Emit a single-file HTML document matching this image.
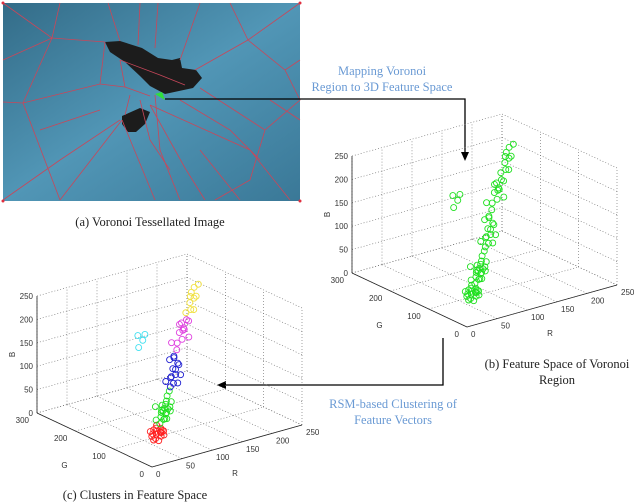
<!DOCTYPE html>
<html><head><meta charset="utf-8"><style>
body{margin:0;background:#fff}
svg{display:block}
.cap{font-family:"Liberation Serif",serif;font-size:12.5px;fill:#222}
.blue{font-family:"Liberation Serif",serif;font-size:12.5px;fill:#6a9ad4}
.tk{font-family:"Liberation Sans",sans-serif;font-size:8px;fill:#333}
</style></head><body>
<svg id="fig" width="640" height="504" viewBox="0 0 640 504">
<defs>
<linearGradient id="bg" x1="0" y1="0" x2="1" y2="1">
<stop offset="0" stop-color="#336c88"/><stop offset="0.5" stop-color="#5196b6"/><stop offset="1" stop-color="#3a7897"/>
</linearGradient>
</defs>
<g>
<rect x="3" y="3" width="297" height="198" fill="url(#bg)"/>
<g fill="#1c1c1c">
<path d="M105,42 L120,41 L142,48 L158,58 L172,60 L180,58 L182,68 L196,70 L202,78 L193,88 L165,94 L150,86 L140,76 L125,62 L110,52 Z"/>
<path d="M122,116 L140,108 L150,112 L145,124 L136,132 L128,132 L122,124 Z"/>
</g>
<g fill="none" stroke="#c8475a" stroke-width="0.8">
<path d="M3,3 L52,38 L105,42 M52,38 L60,3 M3,102 L23,103 L52,38 M23,103 L100,84 L125,87 L150,96 M23,103 L60,200 M60,200 L122,120 M122,120 L155,200 M150,105 L185,168 L205,200 M150,105 L250,150 L290,200 M195,70 L248,40 L300,3 M248,40 L285,70 L300,100 L265,130 L200,88 M265,130 L250,180 L215,200 M100,84 L105,42 M125,87 L120,60 M108,3 L120,41 M158,3 L155,48 M140,3 L138,45 M180,60 L200,3 M155,95 L160,150 L180,200 M3,200 L60,160 M60,160 L120,120 M3,60 L52,38 M285,70 L300,60 M120,60 L160,75 L185,85 M130,95 L125,115 M140,100 L150,140 L170,170 M180,100 L230,130 L260,160 M230,3 L248,40 M40,130 L100,110 M200,150 L240,200 M270,100 L300,120"/>
</g>
<path d="M155,94 L162,92 L165,100 Z" fill="#2fe03a"/>
<g fill="#e03040"><circle cx="3" cy="3" r="1.5"/><circle cx="300" cy="3" r="1.5"/><circle cx="3" cy="201" r="1.5"/><circle cx="300" cy="201" r="1.5"/></g>
</g>
<text class="cap" x="150" y="226" text-anchor="middle">(a) Voronoi Tessellated Image</text>
<text class="blue" x="382" y="75" text-anchor="middle">Mapping Voronoi</text>
<text class="blue" x="382" y="91" text-anchor="middle">Region to 3D Feature Space</text>
<path d="M165,99 L465,99 L465,158" fill="none" stroke="#000" stroke-width="1.3"/>
<path d="M461,152 L465,161 L469,152 Z" fill="#000"/>
<path d="M443,338 L443,385 L222,385" fill="none" stroke="#000" stroke-width="1.3"/>
<path d="M226,381 L217,385 L226,389 Z" fill="#000"/>
<text class="blue" x="393" y="408" text-anchor="middle">RSM-based Clustering of</text>
<text class="blue" x="393" y="424" text-anchor="middle">Feature Vectors</text>
<text class="cap" x="557" y="368" text-anchor="middle">(b) Feature Space of Voronoi</text>
<text class="cap" x="557" y="384" text-anchor="middle">Region</text>
<text class="cap" x="135" y="499" text-anchor="middle">(c) Clusters in Feature Space</text>
<g id="plotB"></g>
<g id="plotC"></g>
</svg>
<script>
const rVals=[20,25,30,22,28,35,18,26,32,24,30,
 40,45,50,55,60,48,65,70,58,75,80,85,62,52,
 88,92,95,100,105,98,110,112,96,108,115,
 118,125,130,135,140,145,150,155,128,160,
 165,170,178,185,190,198,205,195,
 85,90,80,100,
 22,27,33,19,29,36,24,31,
 42,47,53,57,63,68,44,72,
 90,102,94,106,
 122,138,148,
 175,182];
const gVals=[22,28,25,30,20,32,24,30,28,20,35,
 42,40,55,50,62,50,60,72,55,78,75,88,68,48,
 90,88,100,95,110,92,105,118,100,112,110,
 120,130,125,140,135,150,145,160,120,155,
 170,165,180,180,195,200,200,190,
 170,165,160,175,
 35,18,40,28,15,25,42,22,
 55,35,45,65,52,80,60,65,
 105,85,80,120,
 140,120,160,
 165,185];
const bVals=[45,50,55,60,48,58,42,62,52,40,65,
 62,70,68,75,80,85,78,88,92,95,82,98,72,66,
 105,112,118,125,130,138,142,148,120,155,135,
 162,170,178,185,192,198,205,180,200,195,
 205,212,218,225,230,236,240,222,
 185,175,165,180,
 44,57,49,53,61,46,51,59,
 64,73,80,71,86,77,90,69,
 110,128,115,145,
 168,182,190,
 210,228];
const clusters=[0,0,0,0,0,0,0,0,0,0,0,
 1,1,1,1,1,1,1,1,1,1,1,1,1,1,
 2,2,2,2,2,2,2,2,2,2,2,
 3,3,3,3,3,3,3,3,3,3,
 4,4,4,4,4,4,4,4,
 5,5,5,5,
 0,0,0,0,0,0,0,0,
 1,1,1,1,1,1,1,1,
 2,2,2,2,
 3,3,3,
 4,4];
const clusterColors=['#ff2020','#20e020','#2020d0','#e040e0','#f0e040','#40e0f0'];
const bTicks=[0,50,100,150,200,250];
const gTicks=[0,100,200,300];
const rTicks=[0,50,100,150,200,250];
const NS='http://www.w3.org/2000/svg';
function mk(p,t,a){const e=document.createElementNS(NS,t);for(const k in a)e.setAttribute(k,a[k]);p.appendChild(e);return e;}
function drawPlot(gid,ox,oy,colored){
 const g=document.getElementById(gid);
 const P=(r,gg,b)=>[ox-115*gg/300+150*r/250, oy-54*gg/300-42*r/250-117*b/250];
 const L=(a,b,dot)=>{const l=mk(g,'line',{x1:a[0],y1:a[1],x2:b[0],y2:b[1],stroke:dot?'#666':'#222','stroke-width':dot?0.6:0.8});if(dot)l.setAttribute('stroke-dasharray','1,2');};
 gTicks.forEach(t=>L(P(0,t,0),P(250,t,0),true));
 rTicks.forEach(t=>L(P(t,0,0),P(t,300,0),true));
 rTicks.forEach(t=>L(P(t,300,0),P(t,300,250),true));
 bTicks.forEach(t=>L(P(0,300,t),P(250,300,t),true));
 gTicks.forEach(t=>L(P(250,t,0),P(250,t,250),true));
 bTicks.forEach(t=>L(P(250,0,t),P(250,300,t),true));
 L(P(0,300,0),P(0,300,250),false);
 L(P(0,0,0),P(0,300,0),false);
 L(P(0,0,0),P(250,0,0),false);
 bTicks.forEach(t=>{const p=P(0,300,t);const e=mk(g,'text',{x:p[0]-4,y:p[1]+3,'text-anchor':'end',class:'tk'});e.textContent=t;});
 gTicks.forEach(t=>{const p=P(0,t,0);const e=mk(g,'text',{x:p[0]-8,y:p[1]+10,'text-anchor':'end',class:'tk'});e.textContent=t;});
 rTicks.forEach(t=>{const p=P(t,0,0);const e=mk(g,'text',{x:p[0]+4,y:p[1]+10,'text-anchor':'start',class:'tk'});e.textContent=t;});
 const pb=P(0,300,125);let e=mk(g,'text',{x:pb[0]-22,y:pb[1],class:'tk','text-anchor':'middle',transform:'rotate(-90 '+(pb[0]-22)+' '+pb[1]+')'});e.textContent='B';
 const pg=P(0,150,0);e=mk(g,'text',{x:pg[0]-30,y:pg[1]+28,class:'tk','text-anchor':'middle'});e.textContent='G';
 const pr=P(125,0,0);e=mk(g,'text',{x:pr[0]+8,y:pr[1]+30,class:'tk','text-anchor':'middle'});e.textContent='R';
 for(let i=0;i<rVals.length;i++){const p=P(rVals[i],gVals[i],bVals[i]);const c=mk(g,'circle',{cx:p[0],cy:p[1],r:3,fill:'none',stroke:colored?clusterColors[clusters[i]]:'#20e020','stroke-width':0.9});}
}
drawPlot('plotB',467,327,false);
drawPlot('plotC',152,467,true);
</script>
</body></html>
